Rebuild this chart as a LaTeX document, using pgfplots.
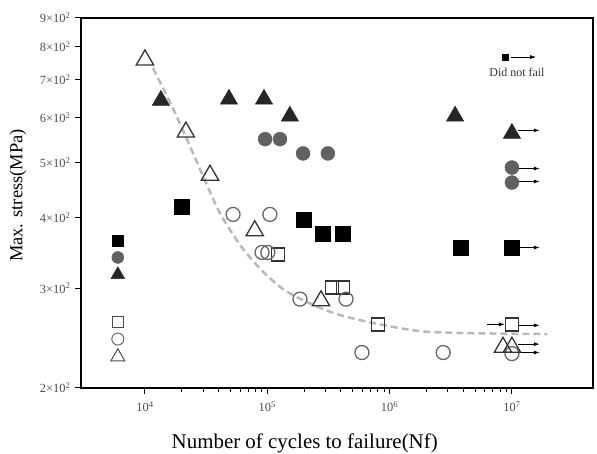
\documentclass[border=0pt]{standalone}
\usepackage{pgfplots}
\pgfplotsset{compat=1.18}
\usepackage{fontspec}
\setmainfont{Liberation Serif}
\usetikzlibrary{arrows.meta}

\begin{document}
\begin{tikzpicture}
\path[use as bounding box] (-81bp,-66bp) rectangle (516bp,388bp);
\begin{axis}[
    at={(0,0)}, anchor=south west,
    scale only axis, width=512bp, height=370bp,
    xmode=log, ymode=log,
    xmin=3000, xmax=4.6e7, ymin=200, ymax=900,
    xtick={1e4,1e5,1e6,1e7},
    xticklabels={10\textsuperscript{4},10\textsuperscript{5},10\textsuperscript{6},10\textsuperscript{7}},
    ytick={200,300,400,500,600,700,800,900},
    yticklabels={2×10\textsuperscript{2},3×10\textsuperscript{2},4×10\textsuperscript{2},5×10\textsuperscript{2},
                 6×10\textsuperscript{2},7×10\textsuperscript{2},8×10\textsuperscript{2},9×10\textsuperscript{2}},
    yminorticks=false,
    tick pos=left, tick align=outside,
    major tick length=6bp, minor tick length=4bp,
    tick style={black, line width=1bp},
    axis line style={black, line width=1.2bp},
    tick label style={font=\fontsize{12.5}{12.5}\selectfont, text=black!70},
    xticklabel style={yshift=-4bp},
    yticklabel style={xshift=-1bp},
    xlabel={Number of cycles to failure(Nf)},
    ylabel={Max. stress(MPa)},
    xlabel style={font=\fontsize{21}{21}\selectfont, at={(axis description cs:0.437,0)}, anchor=center, yshift=-55bp},
    ylabel style={font=\fontsize{18.5}{18.5}\selectfont, at={(axis description cs:0,0.52)}, anchor=center, yshift=63bp},
    clip=false,
]
% fitted S-N curve
\addplot[smooth, gray!55, line width=2.5bp, dash pattern=on 7bp off 4bp] coordinates {
(11630,734)(16010,639)(20450,570)(30950,465)(41050,407)(59800,358)(87150,325)
(134400,299)(223500,282)(392900,269)(834500,259)(1.773e6,252)(3.98e6,250)(1.94e7,249)};

% filled squares
\addplot[only marks, mark=square*, mark size=7.5bp, mark options={fill=black, draw=black}] coordinates {
(20000,418)(200000,397)(285000,375)(416000,375)(3.84e6,354)(1e7,354)};
% filled circles
\addplot[only marks, mark=*, mark size=7bp, mark options={fill=black!62, draw=black!62}] coordinates {
(96000,550)(127000,550)(196000,519)(313000,519)(1e7,490)(1e7,461)};
% filled triangles
\addplot[only marks, mark=triangle*, mark size=10bp, mark options={fill=black!85, draw=black!85}] coordinates {
(13500,644)(48600,647)(94000,647)(153000,604)(3.43e6,604)(1e7,563)};
% open squares
\addplot[only marks, mark=square, mark size=6.5bp, mark options={draw=black!80, line width=1.3bp}] coordinates {
(122000,344)(339000,301)(416000,301)(804000,259)(1e7,259)};
% open circles
\addplot[only marks, mark=o, mark size=7bp, mark options={draw=black!60, line width=1.3bp}] coordinates {
(52500,405)(105000,405)(90600,347)(101000,347)(185000,287)(440000,287)(594000,231)(2.74e6,231)(1e7,230)};
% open triangles
\addplot[only marks, mark=triangle, mark size=10bp, mark options={draw=black!80, line width=1.3bp}] coordinates {
(1e4,759)(21600,566)(34000,475)(79000,379)(275000,285)(8.45e6,236)(1e7,236)};

% marker key at the left edge
\addplot[only marks, mark=square*, mark size=5.5bp, mark options={fill=black, draw=black}] coordinates {(6000,364)};
\addplot[only marks, mark=*, mark size=6bp, mark options={fill=black!62, draw=black!62}] coordinates {(6000,340)};
\addplot[only marks, mark=triangle*, mark size=8bp, mark options={fill=black!85, draw=black!85}] coordinates {(6000,317)};
\addplot[only marks, mark=square, mark size=5.5bp, mark options={draw=black!70, line width=1bp}] coordinates {(6000,261)};
\addplot[only marks, mark=o, mark size=6bp, mark options={draw=black!60, line width=1bp}] coordinates {(6000,244)};
\addplot[only marks, mark=triangle, mark size=8bp, mark options={draw=black!70, line width=1bp}] coordinates {(6000,227)};

% run-outs (did not fail)
\begin{scope}[-{Latex[length=6bp,width=4bp]}, line width=0.9bp, black]
\draw (axis cs:1.12e7,570) -- (axis cs:1.69e7,570);
\draw (axis cs:1.12e7,488) -- (axis cs:1.69e7,488);
\draw (axis cs:1.12e7,463) -- (axis cs:1.69e7,463);
\draw (axis cs:1.12e7,354) -- (axis cs:1.69e7,354);
\draw (axis cs:1.12e7,258) -- (axis cs:1.69e7,258);
\draw (axis cs:1.12e7,239) -- (axis cs:1.69e7,239);
\draw (axis cs:1.12e7,231) -- (axis cs:1.69e7,231);
\draw (axis cs:6.25e6,259) -- (axis cs:8.77e6,259);
\end{scope}

% key for the arrows
\node[fill=black, inner sep=0pt, minimum size=7bp] at (axis cs:8.8e6,768) {};
\draw[-{Latex[length=6bp,width=4bp]}, line width=0.9bp] (axis cs:9.9e6,768) -- (axis cs:1.58e7,768);
\node[font=\fontsize{12}{12}\selectfont, text=black!80] at (axis cs:1.1e7,722) {Did not fail};
\end{axis}
\end{tikzpicture}
\end{document}
